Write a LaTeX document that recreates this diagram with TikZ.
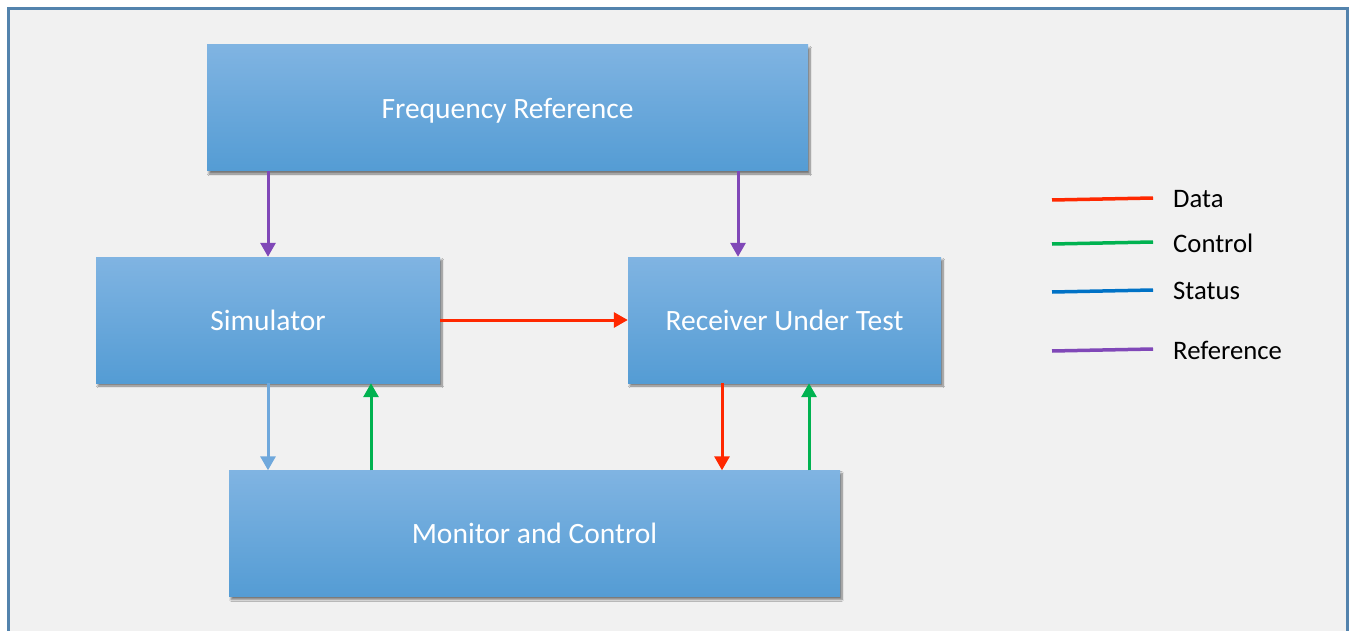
\documentclass[tikz,border=0pt]{standalone}
\usepackage{fontspec}
\setmainfont{Carlito}
\usetikzlibrary{arrows.meta,positioning,calc,shadows.blur}
\definecolor{boxtop}{RGB}{128,180,226}
\definecolor{boxmid}{RGB}{101,170,224}
\definecolor{boxbot}{RGB}{84,156,212}
\definecolor{panel}{RGB}{241,241,241}
\definecolor{frame}{RGB}{83,131,173}
\definecolor{datared}{RGB}{255,40,0}
\definecolor{ctlgreen}{RGB}{0,178,80}
\definecolor{stsblue}{RGB}{0,114,198}
\definecolor{stslight}{RGB}{111,168,220}
\definecolor{refpurple}{RGB}{128,72,184}

\begin{document}
\begin{tikzpicture}[
  x=1pt, y=-1pt, >={Triangle[width=15pt,length=14pt]},
  every node/.style={font=\fontsize{29.5}{34}\selectfont},
  blk/.style={top color=boxtop, middle color=boxmid, bottom color=boxbot,
              text=white, inner sep=0pt, minimum width=#1, minimum height=126pt,
              text depth=0pt,
              blur shadow={shadow xshift=2pt, shadow yshift=-3pt,
                           shadow blur steps=8, shadow opacity=50}},
  sig/.style={->, line width=3pt, #1}
]
  \useasboundingbox (0,0) rectangle (1351,631);
  \clip (0,0) rectangle (1351,631);
  \fill[white] (0,0) rectangle (1351,631);
  \filldraw[fill=panel, draw=frame, line width=3pt] (8.5,8.5) rectangle (1347.5,660);

  \node[blk=601pt] (freq) at (507.5,108) {Frequency Reference};
  \node[blk=344pt] (sim) at (268,320) {Simulator};
  \node[blk=313pt] (rut) at (784.5,320) {Receiver Under Test};
  \node[blk=611pt] (mc) at (534.5,533.5) {Monitor and Control};

  \draw[sig=refpurple] (sim.north |- freq.south) -- (sim.north);
  \draw[sig=refpurple] ([xshift=-46.5pt]rut.north |- freq.south) -- ([xshift=-46.5pt]rut.north);
  \draw[sig=datared] (sim.east) -- (rut.west);
  \draw[sig=stslight] (sim.south) -- (sim.south |- mc.north);
  \draw[sig=ctlgreen] ([xshift=103pt]sim.south |- mc.north) -- ([xshift=103pt]sim.south);
  \draw[sig=datared] ([xshift=-62.5pt]rut.south) -- ([xshift=-62.5pt]rut.south |- mc.north);
  \draw[sig=ctlgreen] ([xshift=24.5pt]rut.south |- mc.north) -- ([xshift=24.5pt]rut.south);

  \foreach \nm/\y/\col/\lab in {dat/199/datared/Data, ctl/243/ctlgreen/Control,
                                sts/291/stsblue/Status, ref/350/refpurple/Reference} {
    \coordinate (\nm a) at (1052,\y+1);
    \coordinate (\nm b) at (1153,\y-1);
    \draw[line width=3.5pt, \col] (\nm a) -- (\nm b);
    \node[anchor=west, inner sep=0pt, font=\fontsize{26.7}{31}\selectfont] (\nm) at (1173,\y) {\lab};
  }
\end{tikzpicture}
\end{document}
